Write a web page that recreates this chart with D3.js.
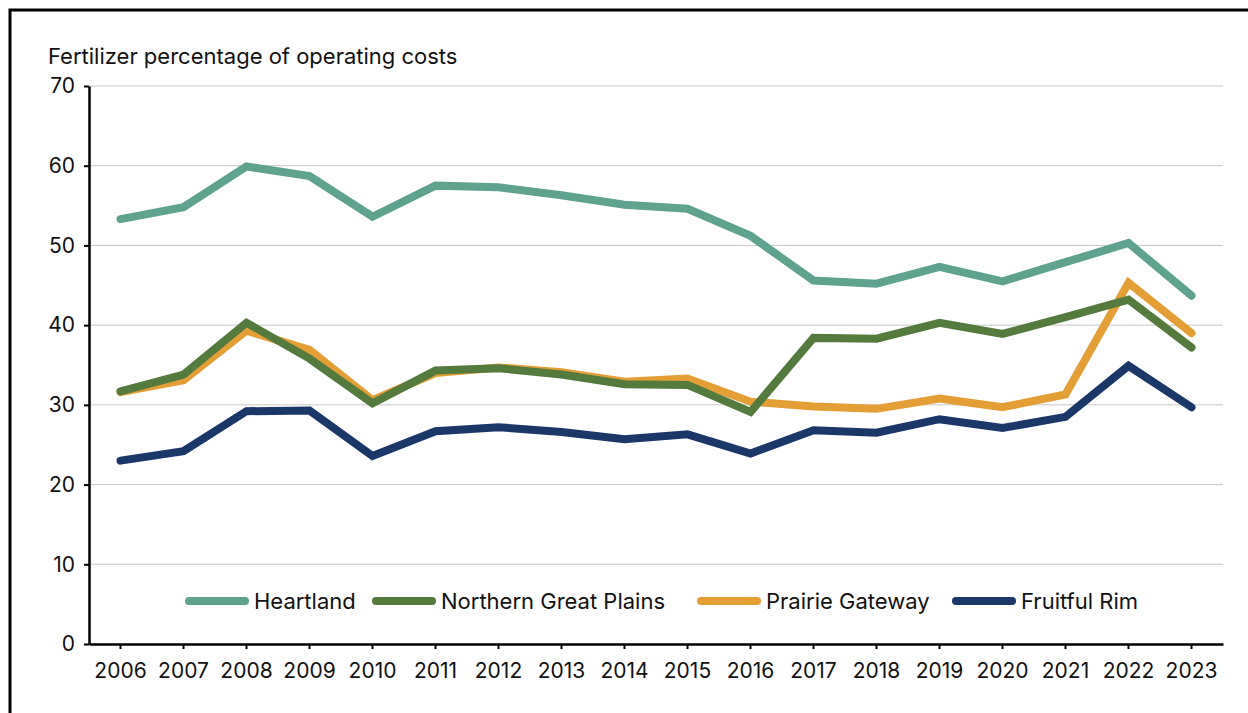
<!DOCTYPE html>
<html>
<head>
<meta charset="utf-8">
<script src="https://cdn.jsdelivr.net/npm/d3@7"></script>
<style>
  body { margin: 0; background: #fff; }
  text { font-family: Inter, "Noto Sans", sans-serif; fill: #111; }
</style>
</head>
<body>
<svg id="chart" width="1248" height="713"></svg>
<script>
var years = ["2006","2007","2008","2009","2010","2011","2012","2013","2014","2015","2016","2017","2018","2019","2020","2021","2022","2023"];
var regions = ["Heartland", "Northern Great Plains", "Prairie Gateway", "Fruitful Rim"];
var heartland = [53.3, 54.8, 59.9, 58.7, 53.6, 57.5, 57.3, 56.3, 55.1, 54.6, 51.2, 45.6, 45.2, 47.3, 45.5, 47.9, 50.3, 43.7];
var northernGreatPlains = [31.7, 33.8, 40.3, 35.8, 30.2, 34.3, 34.6, 33.8, 32.6, 32.5, 29.1, 38.4, 38.3, 40.3, 38.9, 41.0, 43.2, 37.2];
var prairieGateway = [31.6, 33.1, 39.3, 36.9, 30.6, 34.0, 34.7, 34.1, 32.9, 33.3, 30.4, 29.8, 29.5, 30.8, 29.7, 31.3, 45.3, 39.0];
var fruitfulRim = [23.0, 24.2, 29.2, 29.3, 23.6, 26.7, 27.2, 26.6, 25.7, 26.3, 23.9, 26.8, 26.5, 28.2, 27.1, 28.5, 34.9, 29.7];
var yTicks = [0, 10, 20, 30, 40, 50, 60, 70];

var colors = {
  "Heartland": "#5fa38f",
  "Northern Great Plains": "#557a3e",
  "Prairie Gateway": "#e39e35",
  "Fruitful Rim": "#1b3768"
};
var values = {
  "Heartland": heartland,
  "Northern Great Plains": northernGreatPlains,
  "Prairie Gateway": prairieGateway,
  "Fruitful Rim": fruitfulRim
};
// draw order: orange goes under green
var drawOrder = ["Heartland", "Prairie Gateway", "Northern Great Plains", "Fruitful Rim"];

var svg = d3.select("#chart");

// frame around the figure (runs off right and bottom)
svg.append("rect")
  .attr("x", 10).attr("y", 10)
  .attr("width", 1400).attr("height", 900)
  .attr("fill", "none")
  .attr("stroke", "#000")
  .attr("stroke-width", 3);

var plot = {left: 89, right: 1223, top: 86, bottom: 644};

var x = d3.scaleBand().domain(years).range([plot.left, plot.right]);
var y = d3.scaleLinear().domain([0, 70]).range([plot.bottom, plot.top]);

// gridlines
svg.append("g")
  .selectAll("line")
  .data(yTicks.filter(d => d > 0))
  .enter().append("line")
  .attr("x1", plot.left).attr("x2", plot.right)
  .attr("y1", d => y(d)).attr("y2", d => y(d))
  .attr("stroke", "#c8c8c8")
  .attr("stroke-width", 1);

svg.append("text")
  .attr("x", 48).attr("y", 64)
  .style("font-size", "22px")
  .text("Fertilizer percentage of operating costs");

// y axis
var yAxis = svg.append("g")
  .attr("transform", "translate(" + plot.left + ",0)")
  .call(d3.axisLeft(y).tickValues(yTicks).tickSize(5).tickSizeOuter(0).tickPadding(9));
yAxis.select(".domain").attr("stroke", "#000").attr("stroke-width", 2.5);
yAxis.selectAll(".tick line").attr("stroke", "#000").attr("stroke-width", 2);
yAxis.selectAll("text").style("font-size", "21px").attr("font-family", null);

// x axis
var xAxis = svg.append("g")
  .attr("transform", "translate(0," + plot.bottom + ")")
  .call(d3.axisBottom(x).tickSize(5).tickSizeOuter(0).tickPadding(14));
xAxis.select(".domain").attr("stroke", "#000").attr("stroke-width", 2.5);
xAxis.selectAll(".tick line").attr("stroke", "#000").attr("stroke-width", 2);
xAxis.selectAll("text").style("font-size", "21px").attr("font-family", null);

var line = d3.line()
  .x((d, i) => x(years[i]) + x.bandwidth() / 2)
  .y(d => y(d));

svg.append("g")
  .selectAll("path")
  .data(drawOrder)
  .enter().append("path")
  .attr("d", d => line(values[d]))
  .attr("fill", "none")
  .attr("stroke", d => colors[d])
  .attr("stroke-width", 8)
  .attr("stroke-linejoin", "miter")
  .attr("stroke-linecap", "round");

// legend
var legendX = [189, 376, 701, 956];
var legend = svg.append("g")
  .selectAll("g")
  .data(regions)
  .enter().append("g")
  .attr("transform", (d, i) => "translate(" + legendX[i] + ",601)");

legend.append("line")
  .attr("x1", 0).attr("x2", 56)
  .attr("stroke", d => colors[d])
  .attr("stroke-width", 8)
  .attr("stroke-linecap", "round");

legend.append("text")
  .attr("x", 65)
  .attr("dy", "0.35em")
  .style("font-size", "22px")
  .text(d => d);
</script>
</body>
</html>
